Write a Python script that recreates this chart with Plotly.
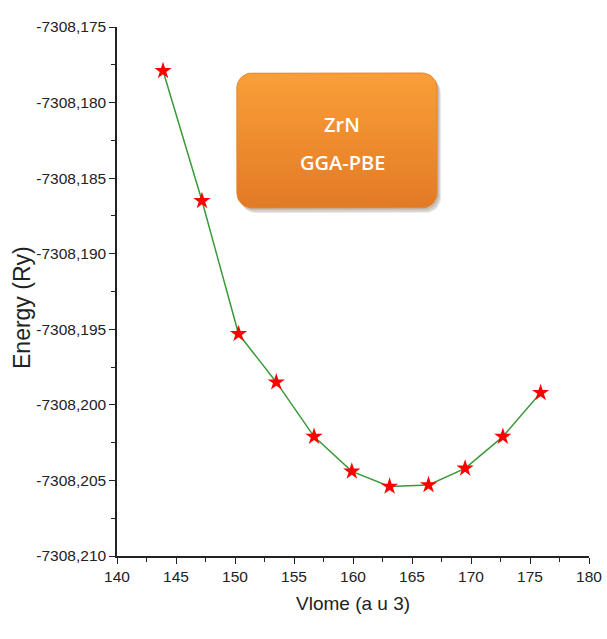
import numpy as np
import plotly.graph_objects as go

# Volume (a.u.^3) and total energy (Ry) for ZrN, GGA-PBE
volume = [143.9, 147.2, 150.3, 153.5, 156.7, 159.9, 163.1, 166.4, 169.5, 172.7, 175.9]
energy = [-7308.1779, -7308.1865, -7308.1953, -7308.1985, -7308.2021, -7308.2044,
          -7308.2054, -7308.2053, -7308.2042, -7308.2021, -7308.1992]

x_ticks = [140, 145, 150, 155, 160, 165, 170, 175, 180]
y_ticks = [-7308.210, -7308.205, -7308.200, -7308.195, -7308.190,
           -7308.185, -7308.180, -7308.175]
y_ticktext = [f"{v:.3f}".replace(".", ",") for v in y_ticks]

ink = "#222222"
label_font = dict(family="Liberation Sans, Arial", size=15.5, color=ink)
title_font = dict(family="Liberation Sans, Arial", size=19, color=ink)

W, H = 607, 639
L, R, T, B = 117, 18, 27, 83
plot_w, plot_h = W - L - R, H - T - B

fig = go.Figure()
fig.add_trace(go.Scatter(
    x=volume, y=energy, mode="lines+markers",
    line=dict(color="#3a9a3a", width=1.5),
    marker=dict(symbol="star", size=13, color="#ff0000", line=dict(width=0)),
    showlegend=False,
))


def rounded_rect(x0, y0, x1, y1, radius_px, n=10):
    """Closed outline of a rounded rectangle in 0..1 overlay units."""
    rx, ry = radius_px / plot_w, radius_px / plot_h
    corners = [(x1 - rx, y1 - ry, 0.0), (x0 + rx, y1 - ry, 90.0),
               (x0 + rx, y0 + ry, 180.0), (x1 - rx, y0 + ry, 270.0)]
    xs, ys = [], []
    for cx, cy, a0 in corners:
        ang = np.radians(np.linspace(a0, a0 + 90, n))
        xs.extend(cx + rx * np.cos(ang))
        ys.extend(cy + ry * np.sin(ang))
    xs.append(xs[0])
    ys.append(ys[0])
    return xs, ys


# Label box drawn on a hidden overlay axis spanning the plot area (0..1)
bx0, bx1, by0, by1 = 0.254, 0.678, 0.658, 0.913
for dx, dy, alpha in [(4, -5, 0.10), (3, -4, 0.12), (2, -2, 0.12)]:
    sx, sy = rounded_rect(bx0 + dx / plot_w, by0 + dy / plot_h,
                          bx1 + dx / plot_w, by1 + dy / plot_h, 15)
    fig.add_trace(go.Scatter(x=sx, y=sy, xaxis="x2", yaxis="y2", mode="lines",
                             fill="toself", fillcolor=f"rgba(60,40,20,{alpha})",
                             line=dict(width=0), hoverinfo="skip", showlegend=False))
bxs, bys = rounded_rect(bx0, by0, bx1, by1, 15)
fig.add_trace(go.Scatter(
    x=bxs, y=bys, xaxis="x2", yaxis="y2", mode="lines", fill="toself",
    fillgradient=dict(type="vertical", start=by0, stop=by1,
                      colorscale=[[0, "#e17a27"], [0.5, "#ef8c2e"], [1, "#f99f38"]]),
    line=dict(color="#e68428", width=1), hoverinfo="skip", showlegend=False,
))

box_font = dict(family="Open Sans, Lato, sans-serif", size=20, color="white", weight=600)
fig.add_annotation(xref="x2", yref="y2", x=0.477, y=1 - (124 - T) / plot_h,
                   text="ZrN", showarrow=False, font=box_font)
fig.add_annotation(xref="x2", yref="y2", x=0.477, y=1 - (162 - T) / plot_h,
                   text="GGA-PBE", showarrow=False, font=box_font)

# Axis titles
fig.add_annotation(xref="paper", yref="paper", x=(22 - L) / plot_w, y=1 - (308 - T) / plot_h,
                   text="Energy (Ry)", textangle=-90, showarrow=False,
                   xanchor="center", yanchor="middle",
                   font=dict(family="Liberation Sans, Arial", size=23, color=ink))
fig.add_annotation(xref="paper", yref="paper", x=0.5, y=1 - (603 - T) / plot_h,
                   text="Vlome (a u 3)", showarrow=False,
                   xanchor="center", yanchor="middle", font=title_font)

fig.update_layout(
    width=W, height=H,
    margin=dict(l=L, r=R, t=T, b=B),
    paper_bgcolor="white", plot_bgcolor="white",
    xaxis=dict(
        range=[140, 180], tickvals=x_ticks, ticks="outside", ticklen=6, tickwidth=1.2,
        tickcolor=ink, showline=True, linecolor=ink, linewidth=1.5,
        showgrid=False, zeroline=False, tickfont=label_font, automargin=False,
        minor=dict(dtick=2.5, ticks="outside", ticklen=4, tickwidth=1.2, tickcolor=ink),
    ),
    yaxis=dict(
        range=[-7308.210, -7308.175], tickvals=y_ticks, ticktext=y_ticktext,
        ticks="outside", ticklen=6, tickwidth=1.2, tickcolor=ink,
        showline=True, linecolor=ink, linewidth=1.5,
        showgrid=False, zeroline=False, tickfont=label_font, automargin=False,
        minor=dict(dtick=0.0025, ticks="outside", ticklen=4, tickwidth=1.2, tickcolor=ink),
    ),
    xaxis2=dict(overlaying="x", range=[0, 1], visible=False, fixedrange=True),
    yaxis2=dict(overlaying="y", range=[0, 1], visible=False, fixedrange=True),
)

fig.write_html("out.html")
